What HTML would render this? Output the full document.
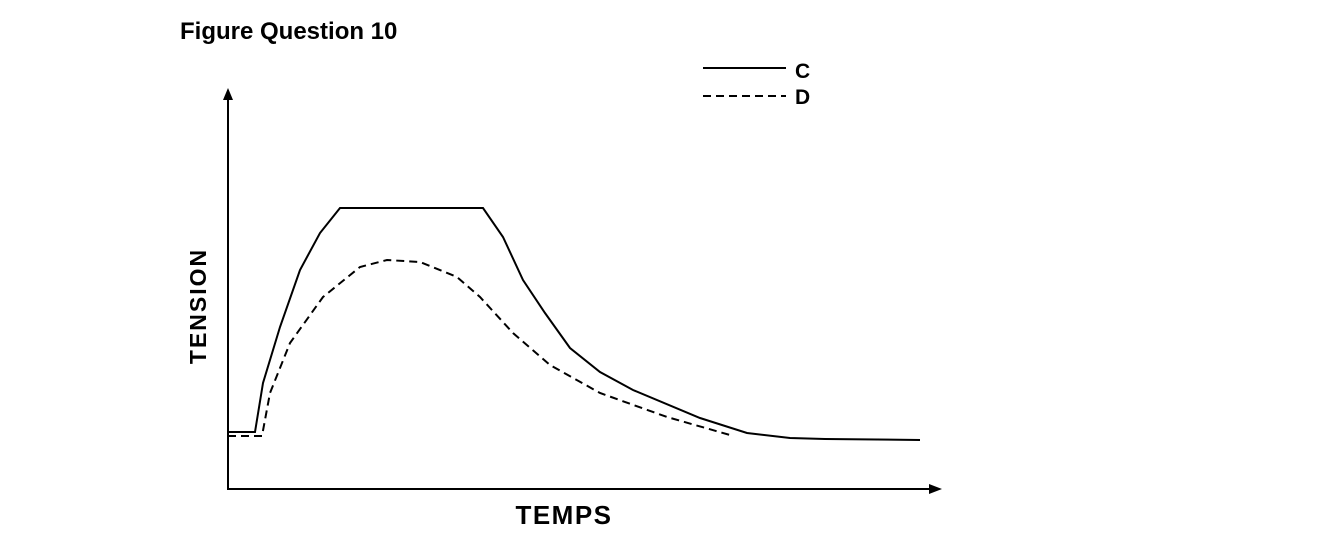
<!DOCTYPE html>
<html><head><style>body{margin:0;background:#fff}svg{display:block}</style></head><body>
<svg width="1319" height="533" xmlns="http://www.w3.org/2000/svg" font-family="Liberation Sans, Arial, sans-serif" font-weight="bold">
<text x="180" y="39" font-size="24">Figure Question 10</text>
<line x1="703" y1="68" x2="786" y2="68" stroke="#000" stroke-width="2"/>
<text x="795" y="78" font-size="21">C</text>
<line x1="703" y1="96" x2="786" y2="96" stroke="#000" stroke-width="2" stroke-dasharray="8,5"/>
<text x="795" y="104" font-size="21">D</text>
<line x1="228" y1="96" x2="228" y2="489" stroke="#000" stroke-width="2"/>
<polygon points="228,88 223,100 233,100" fill="#000"/>
<line x1="227" y1="489" x2="932" y2="489" stroke="#000" stroke-width="2"/>
<polygon points="942,489 929,484 929,494" fill="#000"/>
<text transform="translate(206,306) rotate(-90)" text-anchor="middle" font-size="23" letter-spacing="2">TENSION</text>
<text x="564" y="524" text-anchor="middle" font-size="26" letter-spacing="1.5">TEMPS</text>
<polyline fill="none" stroke="#000" stroke-width="2" points="228,432 255,432 263,383 280,327 300,270 320,233 340,208 483,208 503,237 523,280 545,313 570,348 600,372 633,390 700,418 747,433 790,438 825,439 920,440"/>
<polyline fill="none" stroke="#000" stroke-width="2" stroke-dasharray="8,5" points="228,436 262,436 270,393 290,343 323,297 360,267 387,260 420,262 457,277 480,297 513,333 550,365 600,393 667,417 730,435"/>
</svg>
</body></html>
